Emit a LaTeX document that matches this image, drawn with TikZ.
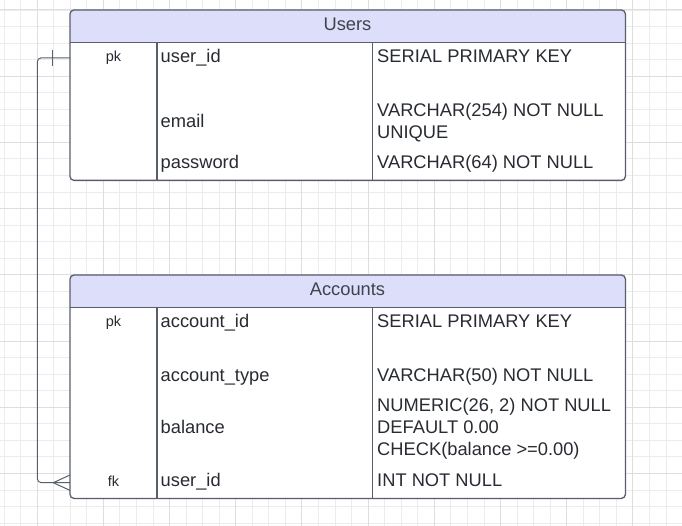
\documentclass[tikz,border=0pt]{standalone}
\usepackage{fontspec}
\setmainfont{Liberation Sans}
\definecolor{gridminor}{RGB}{236,236,236}
\definecolor{gridmajor}{RGB}{222,222,222}
\definecolor{headfill}{RGB}{221,222,250}
\definecolor{border}{RGB}{88,94,106}
\definecolor{txt}{RGB}{40,43,50}
\definecolor{headtxt}{RGB}{62,67,76}
\newcommand{\bodyfnt}{\fontsize{18.3}{21.7}\selectfont}
\newcommand{\keyfnt}{\fontsize{14.5}{17}\selectfont}
\tikzset{
  minorline/.style={gridminor, line width=0.9pt},
  majorline/.style={gridmajor, line width=1pt},
  tablebg/.style={fill=white, draw=none, rounded corners=4pt, inner sep=0pt, anchor=north west},
  tableframe/.style={draw=border, line width=1.3pt, rounded corners=4pt},
  divider/.style={draw=border, line width=1.1pt},
  cell/.style={anchor=base west, inner sep=0pt, font=\bodyfnt, text=txt},
  keycell/.style={anchor=base, inner sep=0pt, font=\keyfnt, text=txt},
  headcell/.style={anchor=base, inner sep=0pt, font=\bodyfnt, text=headtxt},
  relation/.style={draw=border, line width=1pt}
}
\begin{document}
\begin{tikzpicture}[x=1pt, y=-1pt]
\useasboundingbox (0,0) rectangle (682,526);
\fill[white] (0,0) rectangle (682,526);
% grid
\foreach \i in {0,...,40} { \draw[minorline] ({4+\i*16.55},0) -- ({4+\i*16.55},526); }
\foreach \j in {0,...,31} { \draw[minorline] (0,{10+\j*16.55}) -- (682,{10+\j*16.55}); }
\foreach \i in {2,6,...,38} { \draw[majorline] ({4+\i*16.55},0) -- ({4+\i*16.55},526); }
\foreach \j in {0,4,...,28} { \draw[majorline] (0,{10+\j*16.55}) -- (682,{10+\j*16.55}); }

% ---------- Users table ----------
\node[tablebg, minimum width=555pt, minimum height=170pt] (users) at (70,10) {};
\fill[headfill] (70,42.7) {[rounded corners=4pt] -- (70,10) -- (625,10)} -- (625,42.7) -- cycle;
\draw[divider] (70,42.7) -- (625,42.7);
\draw[divider] (157,42.7) -- (157,180);
\draw[divider] (372.3,42.7) -- (372.3,180);
\draw[tableframe] (users.north west) rectangle (users.south east);

\node[headcell] (usershead) at (347.5,31) {Users};
\node[keycell] (upk) at (113.5,61.7) {pk};
\node[cell] (uid) at (160.5,62.3) {user\_id};
\node[cell] (uidt) at (377,62.3) {SERIAL PRIMARY KEY};
\node[cell] (uemail) at (160.5,127.5) {email};
\node[cell] (uemailt1) at (377,116.7) {VARCHAR(254) NOT NULL};
\node[cell] (uemailt2) at (377,138.4) {UNIQUE};
\node[cell] (upw) at (160.5,168.3) {password};
\node[cell] (upwt) at (377,168.3) {VARCHAR(64) NOT NULL};

% ---------- Accounts table ----------
\node[tablebg, minimum width=555pt, minimum height=223pt] (accounts) at (70,275) {};
\fill[headfill] (70,307.7) {[rounded corners=4pt] -- (70,275) -- (625,275)} -- (625,307.7) -- cycle;
\draw[divider] (70,307.7) -- (625,307.7);
\draw[divider] (157,307.7) -- (157,498);
\draw[divider] (372.3,307.7) -- (372.3,498);
\draw[tableframe] (accounts.north west) rectangle (accounts.south east);

\node[headcell] (accountshead) at (347.5,296) {Accounts};
\node[keycell] (apk) at (113.5,326.7) {pk};
\node[cell] (aid) at (160.5,327.3) {account\_id};
\node[cell] (aidt) at (377,327.3) {SERIAL PRIMARY KEY};
\node[cell] (atype) at (160.5,381.7) {account\_type};
\node[cell] (atypet) at (377,381.7) {VARCHAR(50) NOT NULL};
\node[cell] (abal) at (160.5,433.4) {balance};
\node[cell] (abalt1) at (377,411.7) {NUMERIC(26, 2) NOT NULL};
\node[cell] (abalt2) at (377,433.4) {DEFAULT 0.00};
\node[cell] (abalt3) at (377,455.1) {CHECK(balance >=0.00)};
\node[keycell] (afk) at (113.5,486.2) {fk};
\node[cell] (auid) at (160.5,486.7) {user\_id};
\node[cell] (auidt) at (377,486.7) {INT NOT NULL};

% ---------- relation ----------
\coordinate (uattach) at (users.west |- 0,57.8);
\coordinate (aattach) at (accounts.west |- 0,482.7);
\coordinate (bend) at (37.3,0);
\draw[relation, rounded corners=4pt] (uattach) -- (bend |- uattach) -- (bend |- aattach) -- (aattach);
% one (tick)
\draw[relation] ([xshift=-17.3pt]uattach) ++(0,-7.8) -- ++(0,16.3);
% many (crow's foot)
\coordinate (crow) at ([xshift=-16.7pt]aattach);
\draw[relation] (crow) -- ([yshift=-7.7pt]aattach);
\draw[relation] (crow) -- ([yshift=7.7pt]aattach);
\end{tikzpicture}
\end{document}
